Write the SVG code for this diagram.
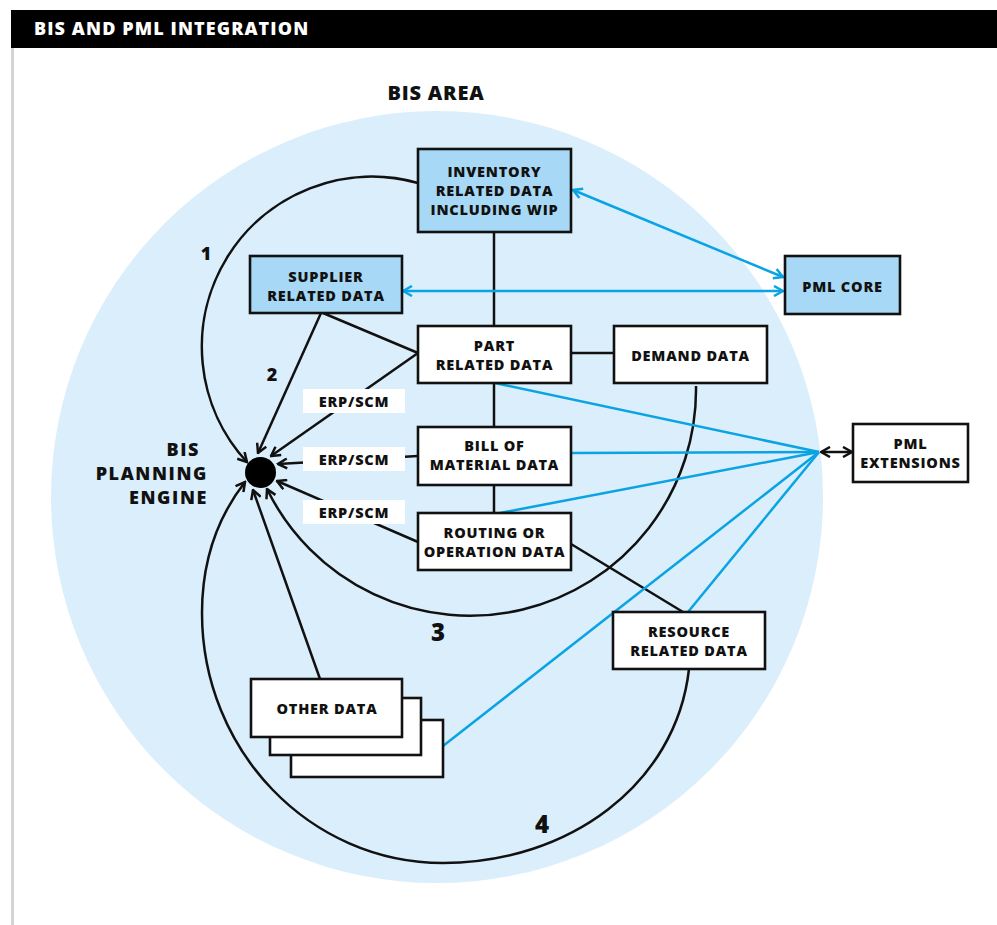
<svg xmlns="http://www.w3.org/2000/svg" width="997" height="925" viewBox="0 0 997 925">
<style>
text{font-family:"Open Sans","Liberation Sans",sans-serif;font-weight:800;fill:#111}
.bt{font-size:14.5px;letter-spacing:0.8px;text-anchor:middle}
.box{stroke:#111;stroke-width:2.6}
.w{fill:#fff}
.b{fill:#a7d8f5}
.k{fill:none;stroke:#111;stroke-width:2.5}
.c{fill:none;stroke:#0aa3e3;stroke-width:2.5}
.num{text-anchor:middle}
.eng{font-size:18px;letter-spacing:1.6px;text-anchor:end}
</style>
<defs>
<marker id="ak" viewBox="0 0 12 12" refX="10.5" refY="6" markerWidth="12" markerHeight="12" markerUnits="userSpaceOnUse" orient="auto-start-reverse">
<path d="M1.5,1 L10.5,6 L1.5,11" fill="none" stroke="#111" stroke-width="2.5"/>
</marker>
<marker id="ac" viewBox="0 0 12 12" refX="10.5" refY="6" markerWidth="12" markerHeight="12" markerUnits="userSpaceOnUse" orient="auto-start-reverse">
<path d="M1.5,1 L10.5,6 L1.5,11" fill="none" stroke="#0aa3e3" stroke-width="2.5"/>
</marker>
</defs>
<rect x="0" y="0" width="997" height="925" fill="#fff"/>
<rect x="11" y="10" width="986" height="38" fill="#000"/>
<text x="34" y="35" style="fill:#fff;font-size:18px;letter-spacing:1.1px">BIS AND PML INTEGRATION</text>
<rect x="11" y="48" width="3" height="877" fill="#d4d4d4"/>
<circle id="bis-area" cx="437" cy="497" r="386" fill="#dbeefb"/>
<text x="436" y="100" style="font-size:20px;letter-spacing:0.8px;text-anchor:middle">BIS AREA</text>

<g id="connectors">
<line class="k" x1="494" y1="232" x2="494" y2="326"/>
<line class="k" x1="494" y1="383" x2="494" y2="427"/>
<line class="k" x1="494" y1="485" x2="494" y2="513"/>
<line class="k" x1="571" y1="353" x2="614" y2="353"/>
<line class="k" x1="323" y1="313" x2="418" y2="353"/>
<line class="k" x1="571" y1="544" x2="683" y2="612"/>
<line class="k" x1="321" y1="313" x2="258" y2="453" marker-end="url(#ak)"/>
<line class="k" x1="418" y1="353" x2="271" y2="456" marker-end="url(#ak)"/>
<line class="k" x1="418" y1="456" x2="278" y2="464" marker-end="url(#ak)"/>
<line class="k" x1="418" y1="542" x2="277" y2="481" marker-end="url(#ak)"/>
<line class="k" x1="320" y1="679" x2="253" y2="490" marker-end="url(#ak)"/>
<path class="k" d="M418,183 A170,170 0 0 0 247,462" marker-end="url(#ak)"/>
<path class="k" d="M696,386 A226,226 0 0 1 267,489" marker-end="url(#ak)"/>
<path class="k" d="M689,669 C676,785 568,863 443,863 C310,863 202,751 202,613 C202,563 217,518 245,482" marker-end="url(#ak)"/>
<line class="c" x1="573" y1="190" x2="783" y2="277" marker-start="url(#ac)" marker-end="url(#ac)"/>
<line class="c" x1="403" y1="291" x2="783" y2="291" marker-start="url(#ac)" marker-end="url(#ac)"/>
<line class="c" x1="495" y1="383" x2="819" y2="452"/>
<line class="c" x1="571" y1="453" x2="819" y2="452"/>
<line class="c" x1="500" y1="513" x2="819" y2="452"/>
<line class="c" x1="688" y1="612" x2="819" y2="452"/>
<line class="c" x1="443" y1="746" x2="819" y2="452"/>
<line class="k" x1="821" y1="452" x2="852" y2="452" marker-start="url(#ak)" marker-end="url(#ak)"/>
</g>

<g id="inventory">
<rect class="box b" x="418" y="149" width="153" height="83"/>
<text class="bt" x="494.5" y="177">INVENTORY</text>
<text class="bt" x="494.5" y="196">RELATED DATA</text>
<text class="bt" x="494.5" y="215">INCLUDING WIP</text>
</g>
<g id="supplier">
<rect class="box b" x="250" y="256" width="152" height="57"/>
<text class="bt" x="326" y="282">SUPPLIER</text>
<text class="bt" x="326" y="301">RELATED DATA</text>
</g>
<g id="part">
<rect class="box w" x="418" y="326" width="153" height="57"/>
<text class="bt" x="494.5" y="351">PART</text>
<text class="bt" x="494.5" y="370">RELATED DATA</text>
</g>
<g id="demand">
<rect class="box w" x="614" y="326" width="153" height="57"/>
<text class="bt" x="690.5" y="361">DEMAND DATA</text>
</g>
<g id="pml-core">
<rect class="box b" x="785" y="256" width="115" height="58"/>
<text class="bt" x="842.5" y="292">PML CORE</text>
</g>
<g id="pml-extensions">
<rect class="box w" x="853" y="424" width="115" height="58"/>
<text class="bt" x="910.5" y="449">PML</text>
<text class="bt" x="910.5" y="468">EXTENSIONS</text>
</g>
<g id="bom">
<rect class="box w" x="418" y="427" width="153" height="58"/>
<text class="bt" x="494.5" y="451">BILL OF</text>
<text class="bt" x="494.5" y="470">MATERIAL DATA</text>
</g>
<g id="routing">
<rect class="box w" x="418" y="513" width="153" height="57"/>
<text class="bt" x="494.5" y="538">ROUTING OR</text>
<text class="bt" x="494.5" y="557">OPERATION DATA</text>
</g>
<g id="resource">
<rect class="box w" x="613" y="612" width="152" height="57"/>
<text class="bt" x="689" y="637">RESOURCE</text>
<text class="bt" x="689" y="656">RELATED DATA</text>
</g>
<g id="other-data">
<rect class="box w" x="291" y="720" width="152" height="57"/>
<rect class="box w" x="270" y="698" width="151" height="57"/>
<rect class="box w" x="251" y="679" width="151" height="58"/>
<text class="bt" x="327" y="714">OTHER DATA</text>
</g>
<g id="planning-engine">
<circle cx="260.5" cy="472.5" r="15.5" fill="#000"/>
<text class="eng" x="200" y="456">BIS</text>
<text class="eng" x="208" y="480">PLANNING</text>
<text class="eng" x="208" y="504">ENGINE</text>
</g>
<g id="erp-labels">
<rect x="303" y="389" width="102" height="24" fill="#fff"/>
<text class="bt" x="354" y="407">ERP/SCM</text>
<rect x="303" y="447" width="102" height="24" fill="#fff"/>
<text class="bt" x="354" y="465">ERP/SCM</text>
<rect x="303" y="500" width="102" height="24" fill="#fff"/>
<text class="bt" x="354" y="518">ERP/SCM</text>
</g>
<g id="numbers">
<text class="num" x="206" y="260" style="font-size:18px">1</text>
<text class="num" x="272" y="381" style="font-size:18px">2</text>
<text class="num" x="438" y="641" style="font-size:24px">3</text>
<text class="num" x="542" y="833" style="font-size:24px">4</text>
</g>
</svg>
